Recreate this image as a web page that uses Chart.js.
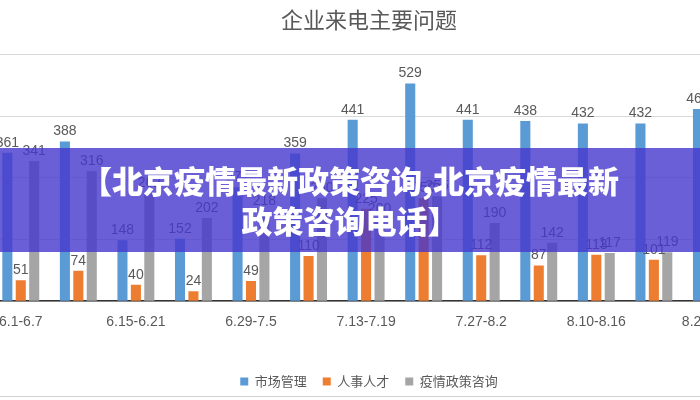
<!DOCTYPE html>
<html><head><meta charset="utf-8">
<script src="https://cdn.jsdelivr.net/npm/chart.js@4"></script>
<style>
html,body{margin:0;padding:0;background:#fff;overflow:hidden;width:700px;height:400px;}
#wrap{position:absolute;left:-8px;top:0;width:754px;height:400px;}
#banner{position:absolute;left:0;top:148px;width:700px;height:104px;background:rgba(70,55,205,0.8);color:#fff;font-family:"Noto Sans CJK SC";font-weight:900;font-size:31px;line-height:40px;text-align:center;padding-top:12px;box-sizing:border-box;}
#bottomline{position:absolute;left:0;top:396px;width:700px;height:1px;background:#d0d0d0;}
</style></head><body>
<div id="wrap"><canvas id="c"></canvas></div>
<div id="banner">【北京疫情最新政策咨询,北京疫情最新<br>政策咨询电话】</div>
<div id="bottomline"></div>
<script>
const categories=["6.1-6.7","6.8-6.14","6.15-6.21","6.22-6.28","6.29-7.5","7.6-7.12","7.13-7.19","7.20-7.26","7.27-8.2","8.3-8.9","8.10-8.16","8.17-8.23","8.24-8.30"];
const tickLabels=["6.1-6.7","","6.15-6.21","","6.29-7.5","","7.13-7.19","","7.27-8.2","","8.10-8.16","","8.24-8.30"];
const market=[361,388,148,152,277,359,441,529,441,438,432,432,467];
const hr=[51,74,40,24,49,110,225,250,112,87,113,101,95];
const policy=[341,316,262,202,218,250,200,255,190,142,117,119,120];
const seriesNames=["市场管理","人事人才","疫情政策咨询"];
const labelPlugin={id:'vals',afterDatasetsDraw(ch){const c=ch.ctx;c.save();c.font='14px "Liberation Sans", Arial';c.fillStyle='#595959';c.textAlign='center';c.textBaseline='bottom';
ch.data.datasets.forEach((d,i)=>{ch.getDatasetMeta(i).data.forEach((b,j)=>{c.fillText(d.data[j],b.x,b.y-3);});});c.restore();}};
new Chart(document.getElementById('c'),{type:'bar',
data:{labels:categories,datasets:[
{label:seriesNames[0],data:market,backgroundColor:'#5b9bd5'},
{label:seriesNames[1],data:hr,backgroundColor:'#ed7d31'},
{label:seriesNames[2],data:policy,backgroundColor:'#a5a5a5'}]},
options:{responsive:true,maintainAspectRatio:false,animation:false,
datasets:{bar:{categoryPercentage:0.7,barPercentage:0.75}},
layout:{padding:{left:0,right:0,top:0,bottom:2}},
plugins:{tooltip:{enabled:false},
title:{display:true,text:'企业来电主要问题',color:'#595959',font:{family:'"Noto Sans CJK SC"',size:22,weight:'normal'},padding:{top:6,bottom:22}},
legend:{position:'bottom',labels:{boxWidth:8,boxHeight:8,color:'#595959',font:{family:'"Noto Sans CJK SC"',size:13},padding:16}}},
scales:{x:{afterFit:s=>{s.height+=23;},ticks:{autoSkip:false,maxRotation:0,padding:5,color:'#595959',font:{family:'"Liberation Sans"',size:14},callback:(v,i)=>tickLabels[i]},grid:{display:false},border:{color:'#333',width:1.5}},
y:{display:true,min:0,max:600,ticks:{display:false,stepSize:150},grid:{color:'#d9d9d9',drawTicks:false},border:{display:false}}}},
plugins:[labelPlugin]});
</script></body></html>
